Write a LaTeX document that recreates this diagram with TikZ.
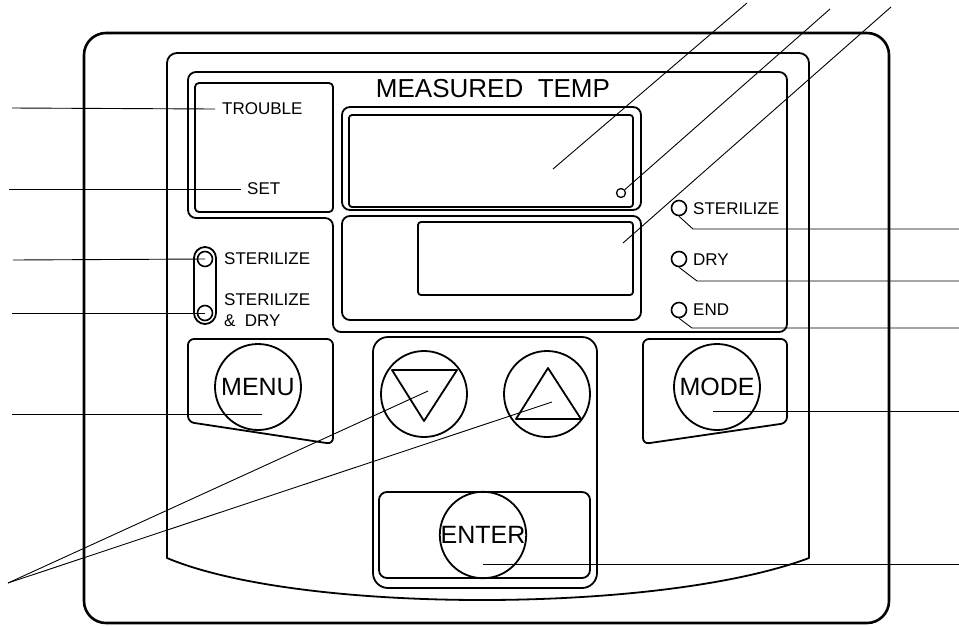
\documentclass[tikz,border=0pt]{standalone}
\usepackage{fontspec}
\setmainfont{Liberation Sans}
\usepackage{tikz}
\usetikzlibrary{positioning}

\begin{document}
\begin{tikzpicture}[x=1pt,y=-1pt,line join=round]
    \tikzstyle{frame}=[line width=2.6pt]
    \tikzstyle{panel}=[line width=1.8pt]
    \tikzstyle{leader}=[line width=0.9pt]
    \tikzstyle{button}=[circle,draw,line width=1.8pt,minimum size=86pt,inner sep=0pt,font=\fontsize{25}{28}\selectfont]
    \tikzstyle{led}=[circle,draw,line width=1.6pt,minimum size=15pt,inner sep=0pt]
    \tikzstyle{ledtext}=[anchor=west,inner sep=0pt,font=\fontsize{17}{20}\selectfont]

    \useasboundingbox (0,0) rectangle (959,625);

    % housing and panel
    \draw[frame,rounded corners=22pt] (84,33) rectangle (889,623);
    \draw[panel] (167,558) [rounded corners=10pt] -- (167,53) -- (809,53) -- (809,300) [sharp corners] -- (809,558) .. controls (660,614) and (300,614) .. (167,558) -- cycle;

    % display area
    \draw[panel,rounded corners=8pt] (188,72) -- (787,72) -- (787,332) -- (333,332) -- (333,218) -- (188,218) -- cycle;
    \draw[panel,rounded corners=4pt] (195,83) rectangle (333,212);
    \draw[panel,rounded corners=8pt] (342,107) rectangle (641,210);
    \draw[panel,rounded corners=3pt] (349,115) rectangle (633,207);
    \draw[panel,rounded corners=8pt] (342,216) rectangle (641,320);
    \draw[panel,rounded corners=3pt] (418,222) rectangle (633,295);
    \node[led,minimum size=9pt,line width=1.3pt] (dot) at (621,193) {};
    \node[font=\fontsize{26}{28}\selectfont] (title) at (493,89) {MEASURED\ \ TEMP};

    \node[ledtext] (trouble) at (222,109) {TROUBLE};
    \node[ledtext] (set) at (247,189) {SET};

    % left lamps
    \draw[panel,rounded corners=11pt] (194,247) rectangle (216,324);
    \node[led] (ledS) at (205,259) {};
    \node[led] (ledSD) at (205,313) {};
    \node[ledtext] (txtS) at (224,259) {STERILIZE};
    \node[ledtext] (txtSD) at (224,300) {STERILIZE};
    \node[ledtext] (txtAmp) at (224,321) {\&\ \ DRY};

    % right lamps
    \node[led] (ledR1) at (679,208) {};
    \node[led] (ledR2) at (679,259) {};
    \node[led] (ledR3) at (679,310) {};
    \node[ledtext] (txtR1) at (693,209) {STERILIZE};
    \node[ledtext] (txtR2) at (693,260) {DRY};
    \node[ledtext] (txtR3) at (693,310) {END};

    % keys
    \draw[panel,rounded corners=6pt] (188,339) -- (333,339) -- (333,444) -- (188,422) -- cycle;
    \node[button] (menu) at (258,387) {MENU};
    \draw[panel,rounded corners=6pt] (643,339) -- (787,339) -- (787,423) -- (643,444) -- cycle;
    \node[button] (mode) at (717,387) {MODE};
    \draw[panel,rounded corners=15pt] (373,337) rectangle (597,588);
    \node[button] (down) at (424,394) {};
    \node[button] (up) at (547,394) {};
    \draw[panel] (392,370) -- (457,370) -- (424,421) -- cycle;
    \draw[panel] (548,368) -- (581,419) -- (516,419) -- cycle;
    \draw[panel,rounded corners=8pt] (379,492) rectangle (590,578);
    \node[button] (enter) at (483,535) {ENTER};

    % leader lines
    \coordinate (topA) at (747,3);
    \coordinate (topB) at (830,9);
    \coordinate (topC) at (891,7);
    \coordinate (onDispA) at (553,169);
    \coordinate (onDispB) at (623,243);
    \draw[leader] (topA) -- (onDispA);
    \draw[leader] (topB) -- (dot);
    \draw[leader] (topC) -- (onDispB);

    \coordinate (lTrouble) at (12,108);
    \coordinate (lSet) at (9,189);
    \coordinate (lLedS) at (13,260);
    \coordinate (lLedSD) at (12,313);
    \coordinate (lMenu) at (12,414);
    \coordinate (onMenu) at (262,414);
    \draw[leader] (lTrouble) -- ([xshift=-7pt]trouble.west);
    \draw[leader] (lSet) -- ([xshift=-6pt]set.west);
    \draw[leader] (lLedS) -- (ledS.center);
    \draw[leader] (lLedSD) -- (ledSD.center);
    \draw[leader] (lMenu) -- (onMenu);

    \coordinate (lArrows) at (8,583);
    \coordinate (onDown) at (428,391);
    \coordinate (onUp) at (552,402);
    \draw[leader] (lArrows) -- (onDown);
    \draw[leader] (lArrows) -- (onUp);

    \coordinate (bendR1) at (693,229);
    \coordinate (bendR2) at (697,281);
    \coordinate (bendR3) at (692,328);
    \coordinate (rR1) at (959,229);
    \coordinate (rR2) at (959,281);
    \coordinate (rR3) at (959,328);
    \draw[leader] (ledR1.south) -- (bendR1) -- (rR1);
    \draw[leader] (ledR2.south) -- (bendR2) -- (rR2);
    \draw[leader] (ledR3.south) -- (bendR3) -- (rR3);

    \coordinate (onMode) at (713,411);
    \coordinate (rMode) at (959,411);
    \coordinate (onEnter) at (483,564);
    \coordinate (rEnter) at (959,564);
    \draw[leader] (onMode) -- (rMode);
    \draw[leader] (onEnter) -- (rEnter);
\end{tikzpicture}
\end{document}
